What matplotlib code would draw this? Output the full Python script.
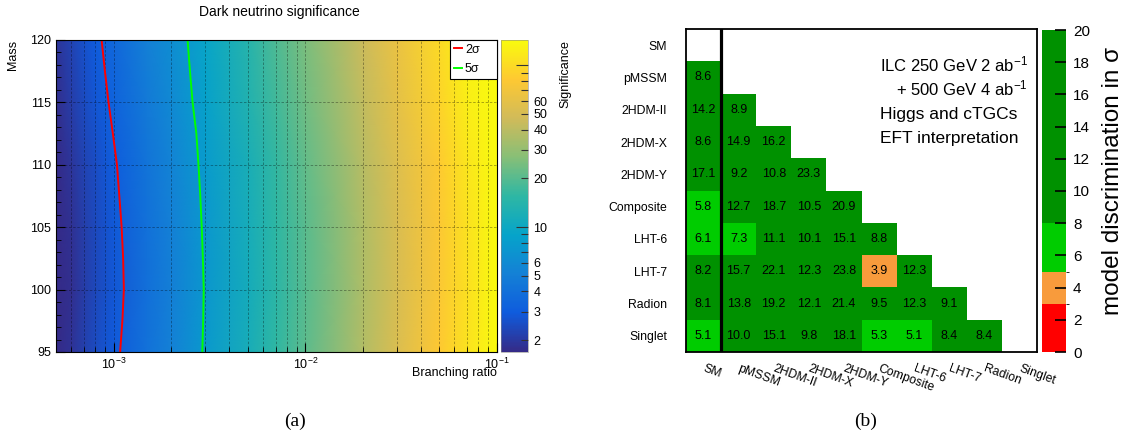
import matplotlib
matplotlib.use('Agg')
import matplotlib.pyplot as plt
import numpy as np
from matplotlib.colors import LinearSegmentedColormap, LogNorm, ListedColormap, BoundaryNorm
from matplotlib.ticker import FixedLocator, FuncFormatter, NullFormatter, MultipleLocator

plt.rcParams['font.family'] = ['Liberation Sans', 'DejaVu Sans']
plt.rcParams['mathtext.fontset'] = 'custom'
plt.rcParams['mathtext.rm'] = 'Liberation Sans'
plt.rcParams['mathtext.it'] = 'Liberation Sans:italic'
plt.rcParams['mathtext.bf'] = 'Liberation Sans:bold'

# ---- (a) dark neutrino significance ----
br_ref = [5e-4, 6e-4, 7e-4, 8e-4, 9e-4, 1e-3, 1.5e-3, 2e-3, 3e-3, 5e-3,
          7e-3, 1e-2, 2e-2, 3e-2, 5e-2, 7e-2, 1e-1]
sig_ref = [1.5, 1.8, 2.1, 2.35, 2.6, 2.8, 4.0, 5.0, 7.3, 11.0,
           15.0, 20.0, 36.0, 51.0, 78.0, 105.0, 143.0]
mass_ref = [95, 100, 105, 110, 115, 120]
mass_scale = [1.04, 1.0, 1.02, 1.07, 1.17, 1.26]

# contour lines
mass_contour = [95, 97.5, 100, 102.5, 105, 107.5, 110, 112.5, 115, 117.5, 120]
br_2sigma = [1.08e-3, 1.11e-3, 1.13e-3, 1.12e-3, 1.10e-3, 1.07e-3, 1.04e-3,
             0.99e-3, 0.94e-3, 0.90e-3, 0.865e-3]
br_5sigma = [2.90e-3, 2.93e-3, 2.95e-3, 2.92e-3, 2.88e-3, 2.83e-3, 2.77e-3,
             2.70e-3, 2.58e-3, 2.50e-3, 2.43e-3]

# ---- (b) model discrimination ----
models = ['SM', 'pMSSM', '2HDM-II', '2HDM-X', '2HDM-Y', 'Composite',
          'LHT-6', 'LHT-7', 'Radion', 'Singlet']
discrimination = [
    [],
    [8.6],
    [14.2, 8.9],
    [8.6, 14.9, 16.2],
    [17.1, 9.2, 10.8, 23.3],
    [5.8, 12.7, 18.7, 10.5, 20.9],
    [6.1, 7.3, 11.1, 10.1, 15.1, 8.8],
    [8.2, 15.7, 22.1, 12.3, 23.8, 3.9, 12.3],
    [8.1, 13.8, 19.2, 12.1, 21.4, 9.5, 12.3, 9.1],
    [5.1, 10.0, 15.1, 9.8, 18.1, 5.3, 5.1, 8.4, 8.4],
]
disc_bounds = [0, 3, 5, 8, 20]
disc_colors = ['#ff0000', '#f89b3c', '#00cc00', '#009100']

# ROOT kBird palette
stops = [0.0, 0.125, 0.25, 0.375, 0.5, 0.625, 0.75, 0.875, 1.0]
red = [0.2082, 0.0592, 0.0780, 0.0232, 0.1802, 0.5301, 0.8186, 0.9956, 0.9764]
green = [0.1664, 0.3599, 0.5041, 0.6419, 0.7178, 0.7492, 0.7328, 0.7862, 0.9832]
blue = [0.5293, 0.8684, 0.8385, 0.7914, 0.6425, 0.4662, 0.3499, 0.1968, 0.0539]
bird = LinearSegmentedColormap.from_list(
    'bird', list(zip(stops, zip(red, green, blue))))

W, H = 1132, 438
fig = plt.figure(figsize=(W / 100, H / 100), dpi=100)


def box(x0, y0, x1, y1):
    return [x0 / W, 1 - y1 / H, (x1 - x0) / W, (y1 - y0) / H]


# ---------------- left panel ----------------
ax1 = fig.add_axes(box(56, 40, 497, 352))
grid = np.outer(mass_scale, sig_ref)
mesh = ax1.pcolormesh(br_ref, mass_ref, grid, shading='gouraud', cmap=bird,
                      norm=LogNorm(1.69, 143), rasterized=True)
ax1.set_xscale('log')
ax1.set_xlim(5e-4, 0.1)
ax1.set_ylim(95, 120)
ax1.plot(br_2sigma, mass_contour, color='#ff0000', lw=1.4, label='2σ')
ax1.plot(br_5sigma, mass_contour, color='#00ff00', lw=1.4, label='5σ')

gstyle = dict(color='k', lw=0.6, alpha=0.38, ls=(0, (3, 2)))
ax1.grid(which='major', axis='both', **gstyle)
ax1.grid(which='minor', axis='x', **gstyle)
ax1.yaxis.set_minor_locator(MultipleLocator(1))
ax1.xaxis.set_minor_formatter(NullFormatter())
ax1.tick_params(which='both', direction='in', top=False, right=False,
                labelsize=9, pad=3.5)
ax1.tick_params(which='major', length=6.5, width=0.8)
ax1.tick_params(which='minor', length=3.5, width=0.6)
ax1.set_yticks([95, 100, 105, 110, 115, 120])
for s in ax1.spines.values():
    s.set_linewidth(0.8)

leg = ax1.legend(loc='upper right', bbox_to_anchor=(0.893, 0.0, 0.107, 1.0),
                 mode='expand', fontsize=9, handlelength=0.7, handletextpad=0.2,
                 borderpad=0.3, labelspacing=0.6, borderaxespad=0,
                 fancybox=False, framealpha=1, edgecolor='k')
leg.get_frame().set_linewidth(0.8)

fig.text(279 / W, 1 - 12 / H, 'Dark neutrino significance', ha='center',
         va='center', fontsize=10)
fig.text(13 / W, 1 - 40 / H, 'Mass', rotation=90, ha='center', va='top',
         fontsize=9)
fig.text(497 / W, 1 - 373 / H, 'Branching ratio', ha='right', va='center',
         fontsize=9)

cax1 = fig.add_axes(box(501, 40, 528, 352))
cb1 = fig.colorbar(mesh, cax=cax1)
cb1.outline.set_linewidth(0.4)
cb1.outline.set_edgecolor('#888888')
cax1.yaxis.set_major_locator(FixedLocator([10, 100]))
cax1.yaxis.set_minor_locator(FixedLocator([2, 3, 4, 5, 6, 7, 8, 9,
                                           20, 30, 40, 50, 60, 70, 80, 90]))
lab1 = {2, 3, 4, 5, 6, 10, 20, 30, 40, 50, 60}
fmt1 = FuncFormatter(lambda v, p: '%d' % round(v) if round(v) in lab1 else '')
cax1.yaxis.set_major_formatter(fmt1)
cax1.yaxis.set_minor_formatter(fmt1)
cax1.tick_params(which='both', direction='in', right=True, left=False,
                 labelsize=9, pad=4, colors='#333333', labelcolor='k')
cax1.tick_params(which='major', length=9, width=0.8)
cax1.tick_params(which='minor', length=5, width=0.8)
fig.text(565 / W, 1 - 40 / H, 'Significance', rotation=90, ha='center',
         va='top', fontsize=9)

# ---------------- right panel ----------------
n = len(models)
mat = np.full((n, n), np.nan)
for i, row in enumerate(discrimination):
    mat[i, :len(row)] = row

ax2 = fig.add_axes(box(686, 29, 1037, 352))
cmap2 = ListedColormap(disc_colors)
norm2 = BoundaryNorm(disc_bounds, cmap2.N)
edges = np.arange(n + 1) - 0.5
mesh2 = ax2.pcolormesh(edges, edges, np.ma.masked_invalid(mat), cmap=cmap2,
                       norm=norm2)
ax2.set_xlim(-0.5, n - 0.5)
ax2.set_ylim(n - 0.5, -0.5)
for i, row in enumerate(discrimination):
    for j, v in enumerate(row):
        ax2.text(j, i, '%.1f' % v, ha='center', va='center', fontsize=9)
ax2.axvline(0.5, color='k', lw=2.3)
for s in ax2.spines.values():
    s.set_linewidth(1.3)
ax2.set_xticks([])
ax2.set_yticks(range(n))
ax2.set_yticklabels(models, fontsize=8.8)
ax2.tick_params(axis='y', length=0, pad=13.5)
for j, name in enumerate(models):
    ax2.text(j + 0.05, n - 0.5 + 11 / 32.3, name, rotation=-20,
             rotation_mode='anchor', ha='left', va='top', fontsize=8.8,
             clip_on=False)

fig.text(880 / W, 1 - 71 / H, 'ILC 250 GeV 2 ab$^{-1}$', ha='left',
         va='baseline', fontsize=12)
fig.text(1028 / W, 1 - 95 / H, '+ 500 GeV 4 ab$^{-1}$', ha='right',
         va='baseline', fontsize=12)
fig.text(880 / W, 1 - 119 / H, 'Higgs and cTGCs', ha='left', va='baseline',
         fontsize=12.5)
fig.text(880 / W, 1 - 143 / H, 'EFT interpretation', ha='left',
         va='baseline', fontsize=12.5)

cax2 = fig.add_axes(box(1042, 30, 1066, 352))
cb2 = fig.colorbar(mesh2, cax=cax2, spacing='proportional',
                   ticks=range(0, 21, 2))
cb2.outline.set_visible(False)
cax2.tick_params(direction='in', right=True, left=False, length=8, width=1.2,
                 labelsize=11, pad=5)
fig.text(1113 / W, 1 - 181 / H, 'model discrimination in σ', rotation=90,
         ha='center', va='center', fontsize=17.5)

fig.text(295 / W, 1 - 421 / H, '(a)', ha='center', va='center', fontsize=14,
         family='Liberation Serif')
fig.text(866 / W, 1 - 421 / H, '(b)', ha='center', va='center', fontsize=14,
         family='Liberation Serif')

fig.savefig('out.png', dpi=100)
